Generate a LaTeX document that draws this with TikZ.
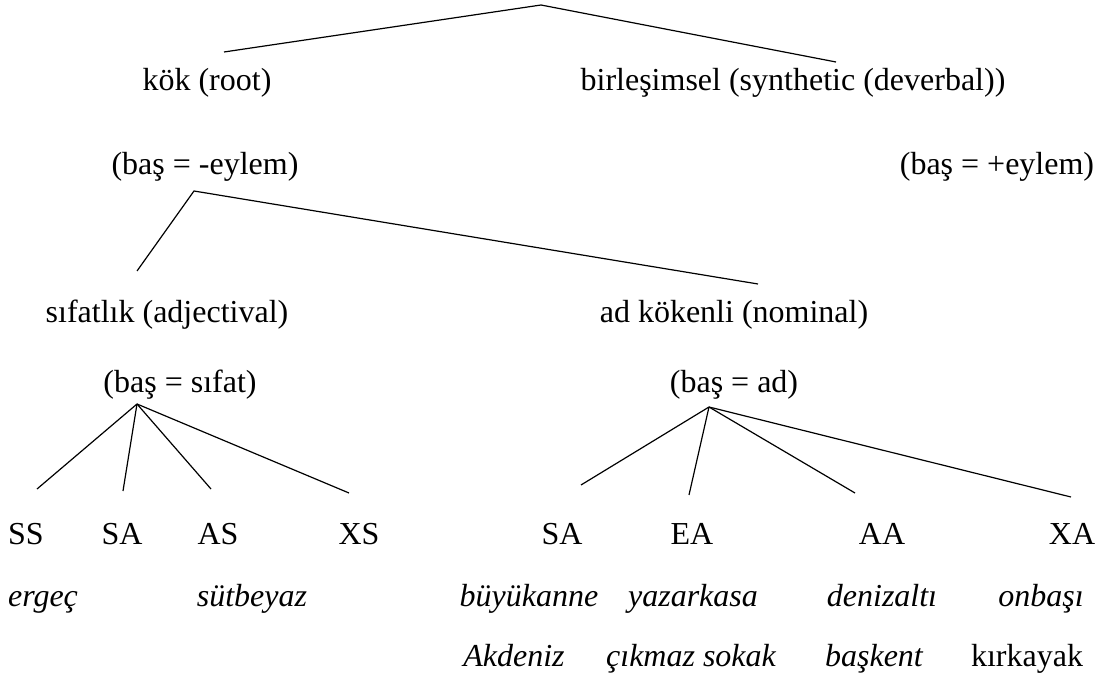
\documentclass[tikz,border=0pt]{standalone}
\usepackage{fontspec}
\setmainfont{Liberation Serif}
\begin{document}
\begin{tikzpicture}[x=0.5pt,y=-0.5pt,
  lbl/.style={anchor=base,inner sep=0pt,font=\fontsize{16}{19}\selectfont},
  ex/.style={lbl,font=\fontsize{16}{19}\selectfont\itshape},
  branch/.style={line width=0.6pt}]
\useasboundingbox (0,0) rectangle (1109,700);

% level 1
\node[lbl] (kok)  at (207,91) {kök (root)};
\node[lbl] (birl) at (793,91) {birleşimsel (synthetic (deverbal))};
\node[lbl] (neg)  at (205,175) {(baş = -eylem)};
\node[lbl] (pos)  at (997,175) {(baş = +eylem)};

% level 2
\node[lbl] (sifatlik) at (167,322) {sıfatlık (adjectival)};
\node[lbl] (adkok)    at (734,322) {ad kökenli (nominal)};
\node[lbl] (bsifat)   at (180,393) {(baş = sıfat)};
\node[lbl] (bad)      at (734,393) {(baş = ad)};

% level 3: adjectival types
\node[lbl] (ss)  at (26,544)  {SS};
\node[lbl] (sa)  at (122,544) {SA};
\node[lbl] (as)  at (218,544) {AS};
\node[lbl] (xs)  at (359,544) {XS};
% level 3: nominal types
\node[lbl] (sa2) at (562,544)  {SA};
\node[lbl] (ea)  at (692,544)  {EA};
\node[lbl] (aa)  at (882,544)  {AA};
\node[lbl] (xa)  at (1072,544) {XA};

% examples
\node[ex] (ergec)  at (43,606)   {ergeç};
\node[ex] (sutb)   at (252,606)  {sütbeyaz};
\node[ex] (buyuk)  at (529,606)  {büyükanne};
\node[ex] (yazar)  at (693,606)  {yazarkasa};
\node[ex] (deniz)  at (882,606)  {denizaltı};
\node[ex] (onbasi) at (1041,606) {onbaşı};
\node[ex] (akd)    at (514,666)  {Akdeniz};
\node[ex] (cikmaz) at (691,666)  {çıkmaz sokak};
\node[ex] (baskent) at (874,666) {başkent};
\node[lbl] (kirk)  at (1027,666) {kırkayak};

% branch points
\coordinate (top) at (541,5);
\coordinate (topL) at (224,52);
\coordinate (topR) at (836,62);
\coordinate (negA) at (194,191);
\coordinate (negL) at (137,271);
\coordinate (negR) at (758,284);
\coordinate (sfA) at (137,404);
\coordinate (sfSS) at (37,489);
\coordinate (sfSA) at (123,491);
\coordinate (sfAS) at (211,489);
\coordinate (sfXS) at (349,493);
\coordinate (adA) at (709,407);
\coordinate (adSA) at (581,485);
\coordinate (adEA) at (689,495);
\coordinate (adAA) at (855,493);
\coordinate (adXA) at (1071,497);

\draw[branch] (topL) -- (top) -- (topR);
\draw[branch] (negL) -- (negA) -- (negR);
\foreach \t in {sfSS,sfSA,sfAS,sfXS} \draw[branch] (sfA) -- (\t);
\foreach \t in {adSA,adEA,adAA,adXA} \draw[branch] (adA) -- (\t);
\end{tikzpicture}
\end{document}
